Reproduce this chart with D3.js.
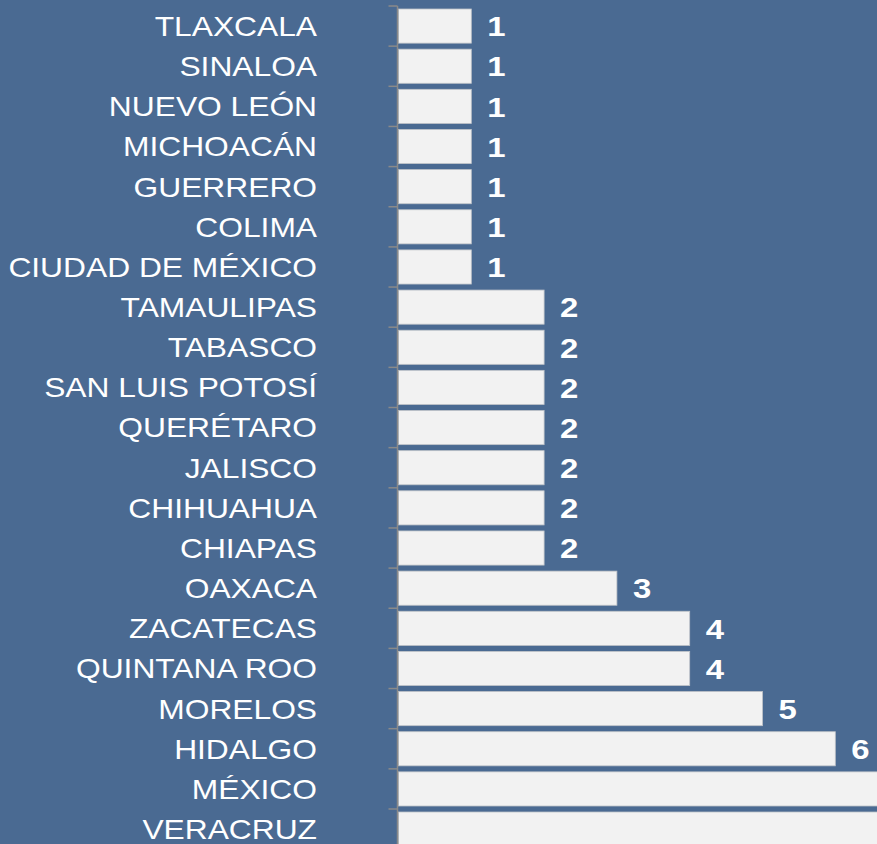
<!DOCTYPE html>
<html><head><meta charset="utf-8">
<script src="https://cdn.jsdelivr.net/npm/d3@7"></script>
<style>html,body{margin:0;padding:0;background:#4a6a92;overflow:hidden}</style>
</head><body>
<svg id="c" width="877" height="844"></svg>
<script>
const states = ["TLAXCALA","SINALOA","NUEVO LEÓN","MICHOACÁN","GUERRERO","COLIMA","CIUDAD DE MÉXICO","TAMAULIPAS","TABASCO","SAN LUIS POTOSÍ","QUERÉTARO","JALISCO","CHIHUAHUA","CHIAPAS","OAXACA","ZACATECAS","QUINTANA ROO","MORELOS","HIDALGO","MÉXICO","VERACRUZ"];
const counts = [1,1,1,1,1,1,1,2,2,2,2,2,2,2,3,4,4,5,6,7,8];

(function(){
const W = 877, H = 844, sx = 1.155;
const svg = d3.select("#c");
const x0 = 398.5, unit = 72.8;
const x = d3.scaleLinear().domain([0, 1]).range([x0, x0 + unit]);
const step = 40.15, topY = 6;
const y = d3.scaleBand().domain(states).range([topY, topY + step * states.length]).paddingInner(0.15).paddingOuter(0.075);

svg.append("rect").attr("width",W).attr("height",H).attr("fill","#4a6a92");

svg.selectAll("rect.bar").data(states).join("rect")
  .attr("class","bar")
  .attr("x", x(0))
  .attr("y", d => y(d))
  .attr("width", (d,i) => x(counts[i]) - x(0))
  .attr("height", y.bandwidth())
  .attr("fill","#f2f2f2")
  .attr("stroke","#c0c4c9").attr("stroke-width",0.8);

const bounds = states.map(d => y(d) - y.step()*y.paddingInner()/2);
svg.append("line").attr("x1",x0-1).attr("x2",x0-1).attr("y1",bounds[0]).attr("y2",H)
  .attr("stroke","#8a8a8a").attr("stroke-width",1.5);
svg.selectAll("line.tk").data(bounds).join("line").attr("class","tk")
  .attr("x1",x0-10).attr("x2",x0-1).attr("y1",d=>d).attr("y2",d=>d)
  .attr("stroke","#8a8a8a").attr("stroke-width",1.5);

svg.selectAll("text.lab").data(states).join("text").attr("class","lab")
  .attr("transform",d=>`translate(317,${y(d)+y.bandwidth()/2}) scale(${sx},1)`)
  .attr("dy","0.36em")
  .attr("text-anchor","end").attr("fill","#fff")
  .attr("font-family","'Liberation Sans', Arial, sans-serif").attr("font-size",27.5)
  .text(d=>d);

const vis = states.map((d,i)=>({d,v:counts[i]})).filter(o => x(o.v) + 40 < W);
svg.selectAll("text.val").data(vis).join("text").attr("class","val")
  .attr("transform",o=>`translate(${x(o.v)+16},${y(o.d)+y.bandwidth()/2}) scale(${sx},1)`)
  .attr("dy","0.36em")
  .attr("fill","#fff").attr("font-weight","bold")
  .attr("font-family","'Liberation Sans', Arial, sans-serif").attr("font-size",28.5)
  .text(o=>o.v);
})();
</script>
</body></html>
